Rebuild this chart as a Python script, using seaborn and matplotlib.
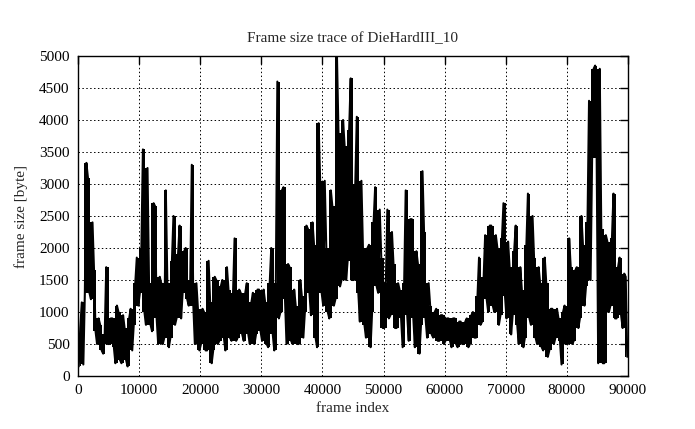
import numpy as np
import pandas as pd
import seaborn as sns
import matplotlib.pyplot as plt

# frame size trace in bins of 500 frames:
# highest and lowest frame size seen inside each bin
bin_width = 500
bin_high = [
    750, 1150, 3330, 3100, 2400, 1650, 900, 800, 650, 1700,
    900, 900, 1100, 1000, 950, 750, 900, 1050, 1450, 1850,
    2000, 3540, 3250, 1450, 2700, 2650, 1550, 1450, 2900, 1450,
    1800, 2500, 1900, 2350, 1950, 2000, 1500, 3300, 1450, 1050,
    1050, 1000, 1800, 1150, 1550, 1500, 1400, 1500, 1700, 1350,
    1300, 2150, 1350, 1300, 1300, 1450, 1150, 1300, 1350, 1350,
    1350, 1150, 1450, 2000, 1450, 4600, 2900, 2950, 1750, 1700,
    1350, 1100, 1500, 1250, 2350, 2300, 2400, 2050, 3950, 3050,
    3050, 2000, 2900, 2650, 5000, 3800, 4000, 3600, 3850, 4650,
    3000, 4050, 3050, 2000, 2000, 2050, 2400, 2950, 2600, 1850,
    1450, 2600, 2250, 1750, 1450, 1350, 1450, 2900, 2450, 2450,
    1950, 1750, 3200, 2250, 1450, 1100, 1000, 1050, 950, 950,
    900, 900, 900, 900, 850, 850, 850, 900, 950, 1000,
    1250, 1850, 1550, 2200, 2350, 2350, 2200, 2000, 2150, 2700,
    2100, 1700, 1950, 2350, 1700, 1350, 2050, 2850, 2500, 1850,
    1700, 1450, 1850, 1450, 1050, 1050, 1050, 900, 1000, 1100,
    2150, 1700, 1650, 1700, 2500, 2050, 2400, 4300, 4800, 4850,
    4800, 2300, 2200, 2100, 2150, 2850, 1700, 1850, 1600, 1550,
]
bin_low = [
    150, 180, 1300, 1300, 1200, 700, 500, 400, 350, 500,
    500, 450, 200, 250, 200, 250, 150, 400, 800, 1100,
    1300, 1000, 800, 800, 700, 900, 500, 500, 600, 450,
    600, 800, 900, 900, 1300, 1200, 1100, 1100, 500, 400,
    500, 400, 400, 200, 400, 500, 550, 600, 400, 600,
    550, 550, 600, 650, 550, 650, 500, 500, 650, 700,
    550, 500, 450, 650, 400, 900, 1000, 1200, 500, 550,
    500, 500, 500, 600, 1000, 1300, 950, 600, 450, 1300,
    1100, 1000, 900, 1100, 1200, 1400, 1500, 1500, 1800, 1500,
    1500, 1300, 850, 800, 600, 450, 1000, 1400, 1300, 750,
    750, 900, 950, 750, 750, 900, 450, 950, 550, 900,
    450, 350, 800, 900, 600, 650, 600, 550, 550, 500,
    550, 550, 450, 500, 450, 500, 500, 450, 500, 600,
    600, 800, 850, 1200, 1000, 1100, 1000, 800, 950, 1250,
    900, 650, 950, 800, 500, 450, 600, 900, 800, 600,
    500, 450, 400, 300, 400, 500, 600, 550, 180, 500,
    500, 500, 550, 750, 900, 1100, 1400, 1500, 3400, 3400,
    200, 200, 200, 1000, 1100, 900, 900, 950, 750, 300,
]

# zig-zag between the low and high of every bin
sizes = []
frames = []
for k, (hi, lo) in enumerate(zip(bin_high, bin_low)):
    frames += [k * bin_width + 125, k * bin_width + 375]
    sizes += [lo, hi] if k % 2 == 0 else [hi, lo]
df = pd.DataFrame({'frame': frames, 'size': sizes})
centers = np.arange(len(bin_high)) * bin_width + bin_width / 2

sns.set_style('white')
plt.rcParams['font.family'] = ['Liberation Serif', 'DejaVu Serif']

fig = plt.figure(figsize=(6.95, 4.29), dpi=100)
ax = fig.add_axes([0.1122, 0.1235, 0.7914, 0.746])

# each bin's range is solid black, like the dense trace in the original
ax.fill_between(centers, bin_low, bin_high, step='mid', color='black',
                linewidth=0)
sns.lineplot(data=df, x='frame', y='size', ax=ax, color='black',
             linewidth=1.5, estimator=None, sort=False)

ax.set_xlim(0, 90000)
ax.set_ylim(0, 5000)
ax.set_xticks(range(0, 90001, 10000))
ax.set_yticks(range(0, 5001, 500))
ax.grid(True, color='black', linestyle=(0, (1.5, 2.5)), linewidth=0.7)
ax.tick_params(direction='in', top=True, right=True, length=6, width=1,
               labelsize=11, colors='black', pad=6)
for s in ax.spines.values():
    s.set_color('black')
    s.set_linewidth(1)

ax.set_xlabel('frame index', fontsize=11, labelpad=3)
ax.set_ylabel('frame size [byte]', fontsize=11, labelpad=8)
ax.set_title('Frame size trace of DieHardIII_10', fontsize=11, pad=10)

fig.savefig('out.png', dpi=100)
